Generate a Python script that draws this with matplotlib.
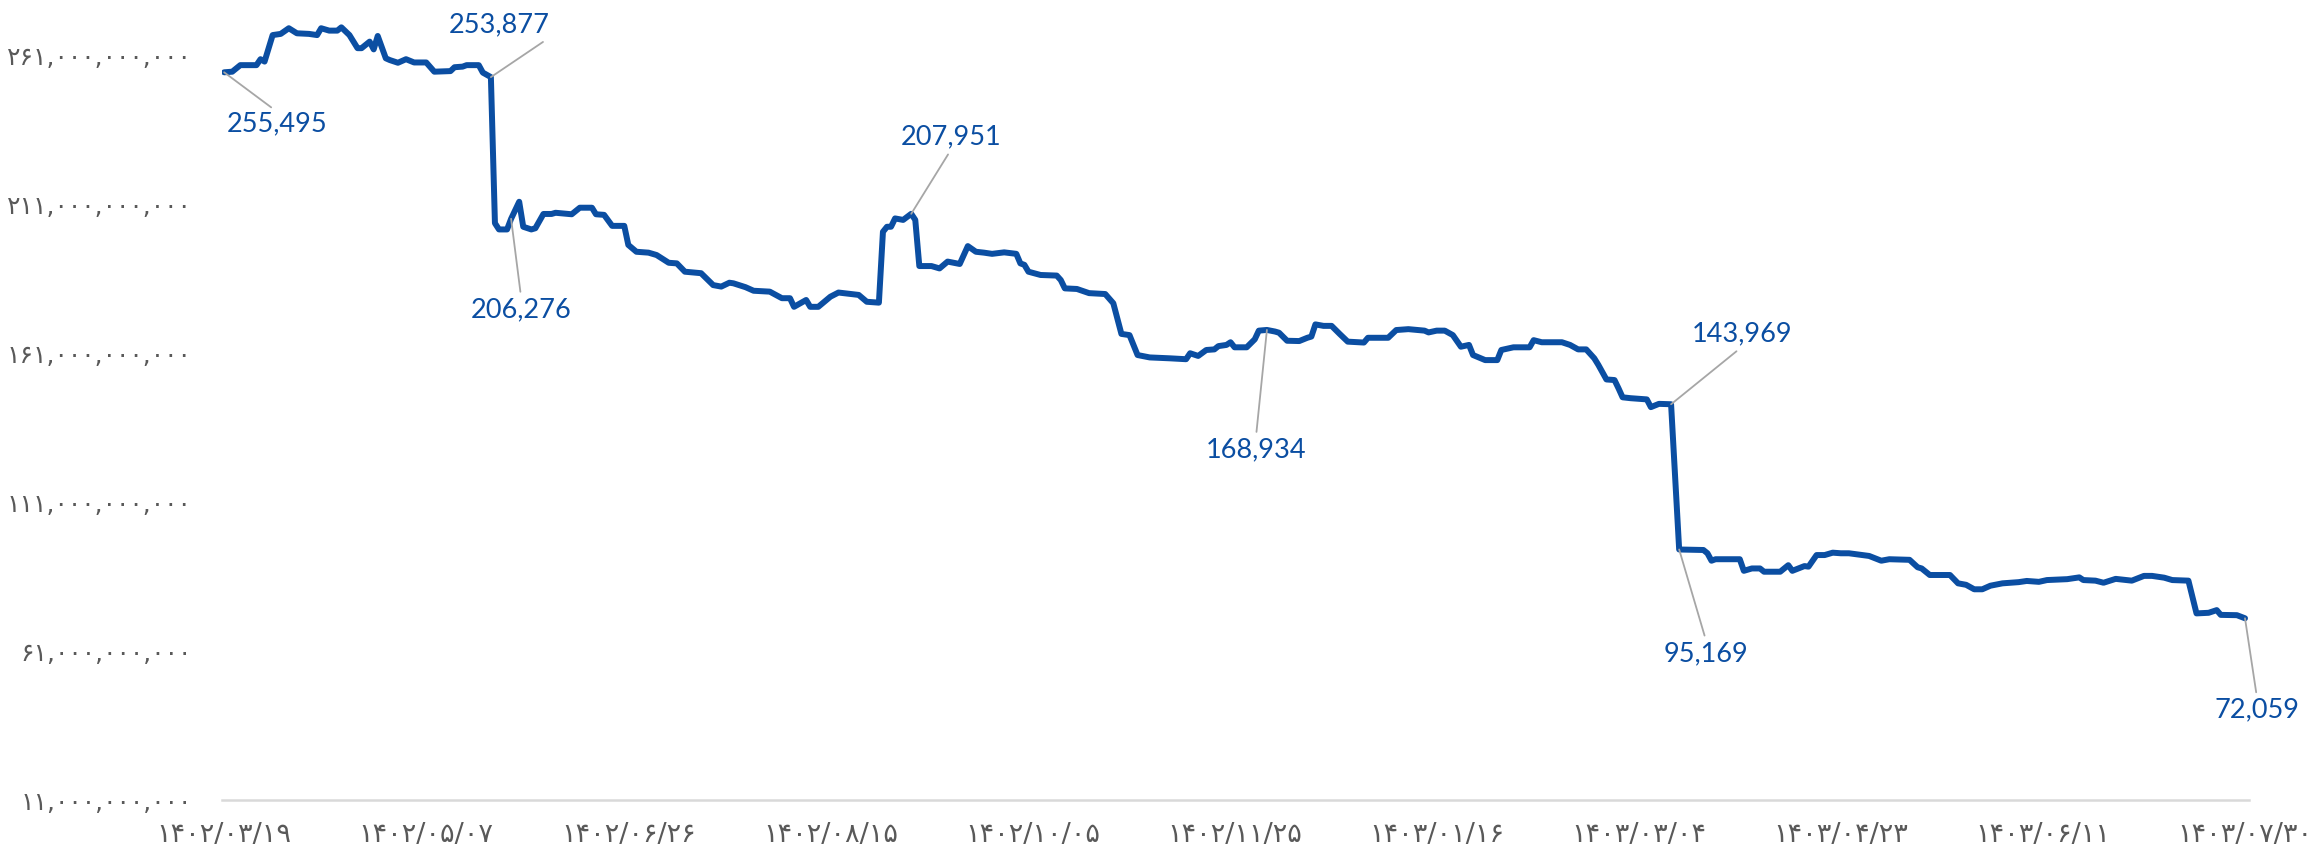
import matplotlib.pyplot as plt

# day offset from 1402/03/19 and value in million rials
days = [0, 2, 4, 8, 9, 10, 12, 14, 16, 18, 21, 23, 24, 26, 28, 29, 31, 33, 34, 36,
        37, 38, 40, 41, 43, 45, 47, 50, 52, 56, 57, 59, 60, 63, 64, 66, 67, 68, 70, 71,
        73, 74, 76, 77, 79, 81, 82, 86, 88, 91, 92, 94, 96, 99, 100, 102, 105, 107, 110, 112,
        114, 118, 121, 123, 125, 126, 129, 131, 135, 138, 140, 141, 144, 145, 147, 150, 152, 157, 159, 162,
        163, 164, 165, 166, 168, 170, 171, 172, 175, 177, 179, 182, 184, 186, 188, 190, 193, 196, 197, 198,
        199, 202, 206, 207, 208, 211, 214, 218, 220, 222, 224, 226, 229, 234, 238, 239, 241, 243, 245, 246,
        248, 249, 250, 253, 255, 256, 258, 260, 261, 263, 266, 268, 269, 270, 272, 274, 276, 278, 282, 283,
        288, 290, 293, 297, 298, 300, 302, 304, 306, 308, 309, 312, 315, 316, 319, 323, 324, 326, 331, 333,
        335, 337, 339, 340, 342, 344, 345, 346, 348, 352, 353, 355, 358, 360, 366, 367, 368, 369, 375, 376,
        378, 380, 381, 385, 387, 388, 391, 392, 394, 396, 398, 400, 402, 407, 410, 412, 417, 419, 420, 422,
        427, 429, 431, 433, 435, 437, 440, 444, 446, 449, 451, 456, 459, 460, 463, 465, 468, 472, 475, 477,
        480, 482, 486, 488, 491, 493, 494, 498, 500]
values = [255495, 255700, 257900, 257900, 259900, 259100, 268000, 268400, 270300, 268600, 268400, 268000, 270300, 269500, 269500, 270600, 268000, 263600, 263600, 265800,
          263200, 267700, 260200, 259600, 258700, 259900, 258800, 258800, 255700, 255900, 257200, 257400, 257900, 257900, 255400, 253877, 204800, 202700, 202700, 206276,
          212000, 203600, 202700, 203100, 207900, 207900, 208300, 207800, 210000, 210000, 207800, 207600, 203900, 203900, 197500, 195200, 194900, 194100, 191500, 191300,
          188500, 188000, 184000, 183500, 184800, 184600, 183300, 182100, 181800, 179600, 179600, 176700, 179000, 176700, 176700, 180100, 181500, 180700, 178400, 178100,
          201900, 203600, 203600, 206400, 205900, 207951, 205900, 190400, 190400, 189600, 191900, 191100, 197100, 195200, 194900, 194500, 195000, 194500, 191300, 190800,
          188500, 187400, 187200, 185700, 182900, 182700, 181300, 181000, 177900, 167600, 167200, 160500, 159700, 159400, 159100, 161100, 160200, 162200, 162400, 163500,
          163900, 164800, 163100, 163100, 165800, 168700, 168934, 168400, 168000, 165300, 165200, 166300, 166700, 170800, 170300, 170300, 167600, 165000, 164700, 166300,
          166300, 168900, 169200, 168700, 168100, 168700, 168700, 167200, 163300, 163900, 160500, 158800, 158800, 162200, 163100, 163100, 165500, 164800, 164800, 163900,
          162400, 162400, 159400, 157200, 152300, 152100, 149300, 146300, 146000, 145600, 143000, 144100, 143969, 95169, 95000, 93900, 91400, 91900, 91900, 88000,
          88800, 88800, 87700, 87700, 89900, 88000, 89600, 89400, 93300, 93300, 94100, 93900, 93900, 93000, 91400, 91900, 91700, 89200, 88800, 86600,
          86600, 83800, 83300, 81800, 81800, 83000, 83800, 84200, 84600, 84300, 84900, 85200, 85800, 84900, 84700, 84000, 85300, 84700, 86300, 86300,
          85700, 84900, 84700, 73700, 73900, 74800, 73200, 73100, 72059]

tick_days = [0, 50, 100, 150, 200, 250, 300, 350, 400, 450, 500]
tick_labels = ["۱۴۰۲/۰۳/۱۹", "۱۴۰۲/۰۵/۰۷", "۱۴۰۲/۰۶/۲۶", "۱۴۰۲/۰۸/۱۵", "۱۴۰۲/۱۰/۰۵",
               "۱۴۰۲/۱۱/۲۵", "۱۴۰۳/۰۱/۱۶", "۱۴۰۳/۰۳/۰۴", "۱۴۰۳/۰۴/۲۳", "۱۴۰۳/۰۶/۱۱",
               "۱۴۰۳/۰۷/۳۰"]
y_ticks = [11e9, 61e9, 111e9, 161e9, 211e9, 261e9]

# labelled points: day -> text offset (px) and where the leader attaches on the text
labelled_days = [0, 66, 71, 170, 258, 358, 360, 500]
label_offsets = [(53, -52), (8, 52), (10, -91), (40, 77), (-11, -120), (71, 70), (27, -104), (12, -92)]
label_relpos = [(0.5, 1), (1, 0), (0.5, 1), (0.5, 0), (0.5, 1), (0.5, 0), (0.5, 1), (0.5, 1)]

FA = str.maketrans("0123456789", "۰۱۲۳۴۵۶۷۸۹")
blue = "#0B4EA2"
gray = "#595959"

fig = plt.figure(figsize=(23.21, 8.49), dpi=100)
ax = fig.add_axes([0.0957, 0.0577, 0.8733, 0.915])

ax.plot(days, [v * 1e6 for v in values], color=blue, lw=4.3,
        solid_joinstyle="round", solid_capstyle="round", zorder=3)

for d, off, rp in zip(labelled_days, label_offsets, label_relpos):
    v = values[days.index(d)]
    ax.annotate(f"{v:,}", xy=(d, v * 1e6), xytext=off, textcoords="offset pixels",
                ha="center", va="center", fontsize=19.5, family=["Lato", "DejaVu Sans"],
                color=blue, annotation_clip=False,
                arrowprops=dict(arrowstyle="-", color="#A6A6A6", lw=1.3,
                                relpos=rp, shrinkA=2, shrinkB=0))

ax.set_xlim(-0.5, 501)
ax.set_ylim(11e9, 272e9)
ax.set_xticks(tick_days)
ax.set_xticklabels(tick_labels, fontsize=19.5, color=gray, family=["DejaVu Sans"])
ax.set_yticks(y_ticks)
ax.set_yticklabels([f"{int(t):,}".translate(FA) for t in y_ticks],
                   fontsize=18, color=gray, family=["DejaVu Sans"])
ax.tick_params(axis="both", length=0)
ax.tick_params(axis="x", pad=16)
ax.tick_params(axis="y", pad=22)

for s in ["top", "right", "left"]:
    ax.spines[s].set_visible(False)
ax.spines["bottom"].set_color("#D9D9D9")
ax.spines["bottom"].set_linewidth(1.8)

fig.savefig("out.png", dpi=100)
